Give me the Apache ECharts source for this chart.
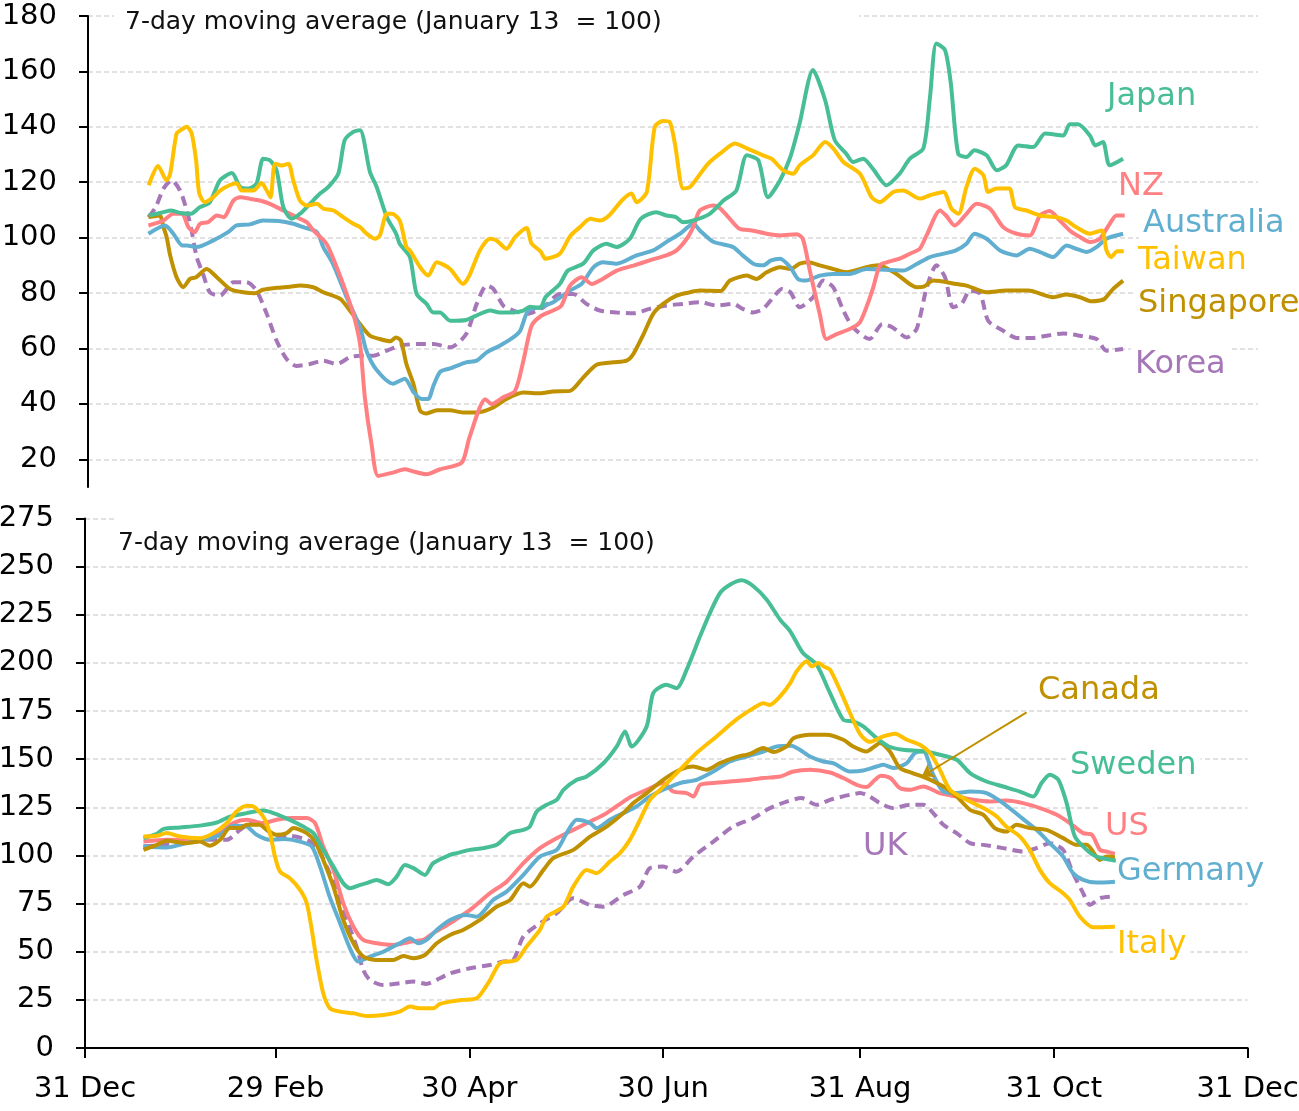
<!DOCTYPE html>
<html>
<head>
<meta charset="utf-8">
<title>7-day moving average</title>
<script src="https://cdn.jsdelivr.net/npm/echarts@6.0.0/dist/echarts.min.js"></script>
<style>
html, body { margin: 0; padding: 0; background: #fff; }
#chart-container { width: 1299px; height: 1111px; }
</style>
</head>
<body>
<div id="chart-container"></div>
<script>
// x = days since 31 Dec 2019, y = index (January 13 = 100)
var xTickDays = [0, 60, 121, 182, 244, 305, 366];
var xTickLabels = ['31 Dec', '29 Feb', '30 Apr', '30 Jun', '31 Aug', '31 Oct', '31 Dec'];

// top panel
var japan = [[19,108],[23.6,109.2],[25.9,109.8],[28.9,108.9],[32.2,108.6],[35,111],[38.1,112.8],[41.3,120.7],[45,123.3],[47.6,118.3],[50.1,117.7],[52.7,119.5],[54.8,128.5],[56.9,127.9],[59,124.3],[61.1,111],[63.7,106.8],[66.3,108.6],[69.4,112.2],[72.6,115.9],[75.2,118.3],[78.3,123.1],[80.3,135.2],[83,138.2],[85.1,138.8],[88.2,123.7],[90.3,118.3],[93.5,107.4],[96.4,101.4],[97.5,97.8],[100.7,93],[102.8,79.7],[105.9,76.1],[108,73],[110.1,73],[113.3,70],[118.3,70.3],[121.3,71.8],[125.8,73.7],[128.8,73],[133,73],[136.2,73.7],[138.2,75.1],[141.4,74.6],[143.1,78.5],[147.6,83.3],[150.1,88.1],[154.9,90.6],[158.1,95.4],[162.2,97.8],[165.3,96.6],[169.5,99.6],[172.9,106.8],[177.8,109.2],[180.9,108],[183.9,107.4],[186.2,105.6],[189.4,106.2],[194.5,108.6],[198.8,113.4],[202.8,117],[206.1,129.7],[209.7,127.9],[212.7,114.6],[216.5,120.7],[219.7,129.1],[222.6,141.2],[226.8,160.5],[230.6,149.6],[233.6,135.2],[237.2,130.3],[239.3,127.3],[242.5,128.5],[245.5,124.9],[249.8,118.9],[253.9,123.1],[257.1,128.5],[261.3,132.2],[263.4,150.8],[265.4,170.1],[268.1,167.7],[269.9,155.7],[272.2,130.3],[274.8,129.1],[277.3,131.5],[281.1,129.7],[284.3,124.3],[287.2,126.1],[291,133.3],[295.7,132.7],[299.4,137.6],[305.1,136.9],[307.1,140.9],[309.7,140.9],[313.4,136.9],[315.1,133.3],[317.5,134.5],[319.6,126.1],[323.8,128.5]];
var nz = [[18.9,104.4],[23.6,106.2],[26.7,108.6],[29.4,108.6],[31.4,103.8],[33.4,102],[35,105],[37.6,105.6],[40.3,108],[42.4,107.4],[45.5,113.4],[47.6,114.6],[50.7,114],[53.7,113.4],[56.9,112.2],[61.1,109.8],[65.2,107.4],[68.4,105.6],[70.5,102.6],[74.6,97.8],[77.8,89.3],[80.9,79.7],[83,72.5],[85.1,61.6],[86.6,42.4],[88.7,25.4],[90.8,14],[95.4,15.2],[99.1,16.4],[101.8,15.6],[105.9,14.6],[110.1,16.4],[116.9,18.8],[119.3,27.8],[124.3,41.7],[126.3,39.9],[129.9,42.4],[133.6,44.7],[136.2,55.6],[138.8,68.3],[141.9,71.9],[145.5,73.7],[148.1,75.5],[150.8,82.7],[154.4,85.7],[157.6,83.3],[161,85.1],[165.4,88.1],[170.6,89.9],[175.7,91.8],[180.9,93.6],[184.1,95.4],[187.3,99.6],[189.4,104],[191.4,109.8],[195.6,111.6],[197.8,110.5],[200.3,107.4],[203.8,103.2],[207.7,102.6],[212.3,101.4],[216.5,100.8],[221.7,101.2],[223.6,99.6],[225.8,88.1],[228.9,72.5],[231,63.4],[234.2,65.2],[238.3,67],[241.4,69.4],[243.5,74.9],[245.5,81.5],[247.7,90],[249.8,91.1],[253.9,92.4],[257.1,94.2],[260.2,96],[262.4,101],[266.5,109.8],[268.4,108],[271.1,104.4],[274.8,108.6],[278,112.2],[282.1,110.5],[286.3,103.8],[290.5,101.4],[294.6,100.8],[297.8,108],[300.8,109.6],[304,106.2],[307.1,102.6],[310.3,100.2],[313.4,98.4],[316.5,99.6],[319.6,105],[321.7,108],[324.3,108]];
var australia = [[18.9,101.4],[24.1,104.4],[26.7,101.4],[29.5,97.2],[30.9,97.2],[34,96.6],[39.2,99],[43.8,102],[46.5,104.4],[50.7,104.8],[54.7,106.2],[59.7,106],[64.2,105],[67.3,103.8],[71.6,102],[73.6,96.6],[76.6,90.6],[80.9,78.5],[85.1,67.6],[87.2,58.8],[90.3,52.2],[95.4,47.3],[99.1,49.1],[101.8,44.3],[104.4,41.8],[106.4,41.8],[108.1,46.7],[110.2,51.6],[113.3,52.8],[118.3,55],[121.6,55.6],[124.7,58.6],[128.8,61],[133,64],[135.2,66.4],[137.7,73.7],[141.4,74.9],[145.5,76.7],[150.8,80.9],[154.4,83.3],[158.1,89.3],[161,91.1],[165.4,90.6],[171.6,93.6],[176.8,95.4],[180.9,98.4],[185.2,101.4],[189.4,105],[191.4,102.6],[195.6,98.5],[201.8,96.6],[204.8,93.6],[208.1,90.6],[211.2,90],[213.7,91.8],[216.5,92.4],[219.7,89.3],[222.1,85.1],[224.6,84.5],[228.9,86.3],[233.1,86.9],[238.3,86.9],[243.5,88.7],[255,88.1],[259.4,90.6],[263.4,93],[268.4,94.4],[271.5,95.4],[274.8,97.8],[277.3,101.4],[281.1,99.6],[285.3,95.4],[290.4,93.6],[294.6,96],[297.8,94.8],[301.9,93],[306.1,97.2],[309.1,96],[312.4,94.8],[315.5,96.6],[318.6,99.6],[323.8,101.4]];
var taiwan = [[19,118.9],[21.9,125.9],[24.6,120.7],[25.7,123],[27.7,137.6],[29,138.8],[30.9,140],[32.4,137.7],[33.8,128],[34.8,116],[36.6,112.8],[39.2,114.6],[41.3,117],[44.4,119],[46.5,119.6],[48.1,117],[51.7,117],[54.3,119.7],[55.9,117],[57.1,114.6],[58.5,126.7],[60.6,126],[62.7,126.7],[64.2,120.7],[66.3,113.4],[68.4,111.6],[71.6,112.2],[73.6,110.5],[76.8,109.8],[79.8,107.4],[83,105],[85.1,103.8],[87.2,101.4],[89.8,99.6],[91.3,100.8],[93.5,108.6],[95.1,108.6],[97.5,106.2],[99.6,96.6],[100.7,95.4],[103.9,89.3],[106.4,86.3],[109.1,91.1],[113.2,88.8],[117.3,83.3],[119.3,86.3],[122.6,95.4],[125.7,99.6],[127.8,99],[130.9,96],[133.6,100.2],[137.2,103.5],[138.7,98],[141.6,95],[143.1,92.4],[147.6,94.2],[150.8,100.5],[153.9,103.8],[157.1,106.8],[160.1,106.2],[163,108],[167,113.4],[170,115.9],[171.6,112.8],[174.8,116.5],[177.3,140],[179.9,142.1],[181.9,141.8],[183.6,133.9],[186.2,117.7],[188.3,118.3],[190.8,121.9],[194,126.7],[197.7,130.3],[202.4,134],[206.1,132.2],[211.2,129.7],[213.8,128.5],[217.5,124.3],[220.7,123.1],[222.6,126.1],[226.8,129.7],[230.6,134.5],[233.1,132.2],[236.3,127.3],[241.5,123.1],[245.1,114.6],[247.7,112.8],[251.9,116.5],[255,117],[260.2,114.1],[263.4,115.3],[267.6,116.5],[270.1,110.5],[272.3,108.6],[274.8,118.3],[277.4,124.9],[280.1,122.5],[281.6,116.5],[284.3,117.7],[288.2,117.7],[290,111],[293.6,109.8],[297.8,108],[303,107.4],[306.1,106.2],[309.1,103.8],[313.4,101.4],[317.1,102.6],[318.6,95.4],[320,93],[322,95.1],[324,95.1]];
var singapore = [[18.9,107.4],[22.4,108],[23.6,103.8],[24.6,100.2],[25.7,93.6],[27.7,85.7],[29.8,82.1],[31.9,85.1],[33.8,85.7],[37.1,88.7],[40.3,85.7],[44.4,81.5],[48.5,80.3],[52.2,79.9],[54.7,81.2],[59,81.9],[63.2,82.3],[66.3,82.7],[70.5,82.1],[73.6,80.3],[78.9,77.9],[81.9,73.7],[85.1,68.8],[88.2,64.6],[91.3,63.4],[94.5,62.6],[96.4,64],[97.9,62.8],[99.6,54.4],[101.8,47.2],[103.9,37.5],[105.9,36.5],[109.1,37.7],[113.2,37.7],[117.3,36.9],[121.6,36.9],[126.8,38.7],[130.9,41.8],[136.2,44.1],[141.4,43.8],[145.5,44.5],[150.8,44.7],[154.9,49.5],[159.1,54.1],[164.3,55],[168.5,55.6],[170.6,58],[173.8,65.2],[176.8,72.5],[179.9,76.1],[184.1,79.1],[188.3,80.3],[191.4,80.9],[197.8,80.7],[200.8,84.5],[206.1,86.3],[209.1,85.1],[212.3,87.5],[216.5,89.3],[219.7,88.7],[222.6,90.6],[225.3,91.1],[228.9,90],[233.1,88.7],[237.2,87.5],[243.5,89.3],[247.2,90],[252.9,86.9],[259.2,82.1],[261.4,82.3],[264.4,84.5],[271.7,83.3],[274.8,82.7],[281.1,80.3],[287.2,80.9],[294.1,80.9],[301.9,78.5],[306.1,79.5],[310.3,78.5],[313.9,77],[316.5,77.3],[318,77.9],[320.7,81.5],[323.8,84.5]];
var korea = [[18.9,107.4],[21.2,111],[23.6,117.7],[26.2,120.7],[28.8,117],[30.9,109.8],[32.4,102.6],[34,93],[36,86.9],[38.1,80.3],[41.3,79.1],[45.5,83.9],[49.6,83.9],[52.7,80.9],[55.9,72.5],[59,62.8],[62.2,56.1],[65.2,53.7],[69.4,54.4],[73.6,55.6],[77.8,54.4],[81.9,56.8],[85.1,57.4],[89.2,57.4],[93.5,59.2],[97.5,61],[102.8,61.6],[108.1,61.6],[113.3,60.4],[118.3,65.2],[121.6,76.1],[124.7,82.7],[126.8,81.5],[129.9,75.5],[133,73.7],[137.2,72.5],[142.5,74.9],[147.6,79.7],[151.8,79.7],[155.9,76.1],[160.1,73.7],[165.4,73],[170.6,72.7],[175.7,74.3],[180.9,75.5],[186.2,76.1],[191.4,76.7],[196.6,75.5],[201.8,76.1],[204.8,74.3],[208.1,73],[211.2,74.3],[214.4,78.5],[217,81.5],[219.7,80.3],[222.6,74.9],[226.8,78.5],[230,84.5],[233.1,82.1],[236.3,73.7],[239.3,67.6],[244.5,63.4],[248.5,68.8],[251.7,67.6],[256.1,64],[259.2,67],[262.4,82.1],[265.4,90],[268.1,85.7],[270.6,74.9],[273.3,76.1],[275.9,80.9],[279.1,79.7],[281.6,70],[286.3,66.4],[290.5,63.8],[295.7,63.8],[299.9,64.6],[305.1,65.4],[310.3,64.6],[315.5,63.4],[318.6,59.2],[323.8,59.8]];

// bottom panel
var sweden = [[18.4,109],[22.6,111.2],[24.6,113.7],[29.9,114.5],[36.2,115.5],[41.5,117.1],[45.6,120.2],[50.9,122],[56.1,123.3],[59.3,122],[64.5,118.5],[68.7,115],[71.9,111.6],[75,102.9],[78.2,94.2],[81.3,85.6],[83.4,83],[86.6,84.7],[88.7,85.6],[91.8,87.3],[95.5,85.1],[98.1,89],[100.7,95.1],[103.4,93.4],[107,89.9],[109.6,96],[114.9,100.3],[117,101.2],[121.2,102.9],[125.4,103.8],[129.6,105.5],[133.8,111.6],[138,113.3],[140,115],[142.2,122.8],[145.3,126.3],[148.5,128.9],[150.6,134.1],[154.8,139.3],[157.9,141],[163.2,147.9],[167.4,156.6],[170,164.4],[172.1,156.6],[176.8,167],[178.9,184.4],[183,188.7],[186.2,186.9],[189.4,196.5],[193.6,213.8],[196.7,225.9],[199.9,236.3],[203,240.6],[206.7,242.9],[210.4,239.8],[214.6,232.8],[218.8,222.5],[222,216.4],[226,205.1],[230.3,199.1],[234.5,184.4],[238.7,170.5],[241.8,169.6],[245,167],[249.2,160.9],[253,156.6],[257.5,154.9],[263.9,154.1],[269.1,152.3],[274.4,149.7],[278.6,142.8],[283.8,138.4],[289,135.8],[294.3,133.2],[298.5,130.6],[301.1,137.6],[303.7,141.9],[306.4,139.3],[309,127.2],[311.6,109.8],[315.3,102.9],[318.4,99.4],[324.5,97.3]];
var us = [[18.4,107.2],[25.7,108.1],[36.2,107.6],[42.5,111.6],[46.7,116.8],[50.9,118.5],[56,116.8],[60.3,118.5],[64.5,119.4],[69.8,119.4],[72.4,116.8],[75,104.6],[78.2,92.5],[81.3,75.2],[84.5,63],[87.6,56.1],[91.8,54.4],[97,53.5],[102.3,55.2],[106.5,56.1],[109.6,59.6],[114.9,64.8],[121.2,71.7],[127.5,80.4],[132.7,86.4],[138,96],[143.2,103.8],[148.5,109],[153.7,113.3],[159,117.6],[164.2,122],[169.5,128],[172,130.6],[176.8,134.1],[182,137.6],[185.2,133.2],[189.4,132.4],[191.5,130.6],[193.6,136.7],[197.8,137.6],[203,138.4],[209.3,139.3],[213.5,140.2],[218.8,141],[223,143.6],[228.2,144.5],[234.5,143.1],[238.7,140.2],[242.9,136.7],[246,135.5],[248.7,139.3],[250.5,141.4],[253.5,140.2],[256.5,135],[259.7,134.1],[263.9,135.8],[269,132.4],[274.4,130.6],[279.6,128.9],[284.9,128],[290,128.5],[295.3,127.2],[300.6,124.6],[305.9,121.1],[310,116.8],[314.2,111.6],[317,110.7],[319.5,102.9],[321.6,102],[324.2,100.8]];
var germany = [[18.4,104.6],[25.7,104.1],[32,106.4],[38.3,108.5],[42.5,110.7],[46.7,115.4],[50.9,115],[54,110.7],[58.2,108.1],[62.4,108.5],[67.7,107.2],[71.4,104.6],[74,94.2],[77,78.6],[80.3,64.8],[83.4,51.8],[86,44.9],[89.7,47.5],[93.9,50],[99.1,54.4],[102.3,57],[104.9,54.4],[107.5,56.1],[110.7,61.3],[114.9,66.5],[120,69.1],[123.3,68.2],[128.5,76.9],[132.7,81.2],[138,89.9],[143.2,99.4],[148.5,102.9],[151.6,111.6],[154.8,118.5],[159,116.8],[161,114.2],[165.2,118.5],[169.5,122],[173.6,125.4],[177.8,130.6],[182,134.1],[187.3,137.6],[192.5,139.3],[197.8,143.6],[203,148.8],[208.3,151.4],[213.5,154],[217.7,156.6],[222.4,157],[225,154.9],[228.2,151.4],[232.4,148.8],[235.5,148],[240.8,143.6],[245,144.1],[249.2,146.2],[251.3,147.1],[254.4,145.4],[258.7,148],[261.2,153.2],[263.9,154],[267,142],[270.2,133.2],[274.4,132.4],[278.6,133.2],[283.8,132.4],[289,127.2],[294.3,120.2],[299.5,113.3],[303.7,106.4],[307.9,99.4],[311,90.8],[314.2,87.3],[318.4,85.9],[324.2,86.4]];
var italy = [[18.4,109.8],[22.6,110.2],[25.7,111.6],[29.9,109.8],[36.2,109],[40.4,111.6],[44.6,116.8],[47.7,122.8],[50.9,125.8],[53,125.4],[56.1,120.2],[58.2,111.6],[59.8,99.4],[61.4,91.6],[64.5,88.2],[67.7,82.1],[69.8,75.2],[71.4,61.3],[72.9,45.7],[75,28.4],[77.1,20.6],[80.3,18.9],[84.5,18],[88.7,16.6],[93.9,17.1],[99.1,18.9],[102.3,21.5],[105.4,20.6],[109.6,20.6],[111.7,22.9],[114.9,24.1],[119,25],[123.3,25.8],[127.5,35.3],[130.6,44],[135.9,45.7],[139,52.7],[143.2,61.3],[145.3,68.2],[150.6,73.4],[153.7,83.8],[157.9,92.5],[161,90.8],[165.2,96.8],[168.4,101.2],[171.5,108.1],[174.7,118.5],[177.8,128.9],[181,134.1],[187.3,144.5],[192.5,153.2],[198.8,161.8],[205,170.5],[210.4,176.5],[213.5,179.1],[215.6,178.2],[218.8,182.6],[222,189.5],[224,195.6],[227.2,200.8],[228.8,198.2],[230.8,199.9],[232.5,198.2],[234.5,196.5],[237.6,186.1],[240.8,174],[244,163],[247,159],[251.3,161.8],[255,163.2],[258.7,160.1],[262.8,157.5],[266,153.2],[269.1,144.5],[272.3,134.1],[277.5,128.9],[282.8,124.6],[287,120.2],[290,115],[294.3,109.8],[297.4,102.9],[300.6,92.5],[303.7,85.6],[307.9,80.4],[310,76.9],[313.2,68.2],[317.4,62.7],[324.2,63]];
var canada = [[18.4,102.9],[22.6,105.5],[25.7,107.6],[32,106.4],[36.2,107.2],[39.3,105],[42.5,108.1],[45.6,114.2],[48.8,114.2],[50.9,115.9],[55,115.9],[57.2,113.3],[60.3,110.7],[63.5,111.6],[65.6,114.2],[69.8,111.6],[72.4,107.2],[75,97.7],[78.2,83.8],[81.3,66.5],[84.5,54.4],[87.6,47.5],[91.8,45.7],[97,45.7],[100.2,47.8],[103.4,46.6],[107,48.3],[110.7,54.4],[114.9,58.7],[119,61.3],[124.3,66.5],[129.6,73.4],[133.8,76.9],[138,85.6],[140,83.8],[144.3,92.5],[147.4,98.6],[153.7,102.9],[159,109.8],[164.2,115],[169.5,122],[172.6,127.2],[176.8,132.4],[182,139.3],[187.3,144.5],[191.5,146.2],[195.7,144.5],[199.9,148],[205,151.1],[209.3,152.8],[213.5,155.8],[216.7,153.7],[220.9,156.6],[223,160.9],[228.2,162.7],[233.4,162.7],[238.7,160.1],[241.8,156.6],[246,154],[248.5,156.6],[250.2,158.4],[253.3,154.1],[256.5,145.4],[260.5,142.8],[264.9,140.2],[270.2,135.8],[274.4,130.6],[278.6,123.7],[282.8,121.1],[286.4,114.2],[290,112.4],[293.2,115.9],[297.4,114.2],[302.7,113.3],[307.9,109],[312.1,105.5],[315.3,105.5],[319.5,97.7],[321.6,99.4],[324.2,99.1]];
var uk = [[18.4,104.6],[23.6,105.5],[30.9,106.4],[38.3,108.1],[44.6,108.1],[48.8,113.3],[53,117.6],[56.1,115],[60.3,109.8],[64.5,110.2],[69.8,108.1],[72.9,104.6],[76.1,94.2],[79.2,82.1],[82.4,66.5],[85.5,52.6],[87.6,40.5],[89.7,35.3],[93.9,32.7],[99.1,33.6],[103.4,34.5],[107.5,33.3],[111.7,36.2],[114.9,38.8],[121.2,41.4],[127.5,43.1],[131.7,44.9],[134.8,45.7],[138,57.9],[143.2,64.8],[148.5,70],[153.7,77.8],[159,74.3],[163.2,73.4],[169.5,79.5],[174.7,83.8],[177.8,93.4],[182,94.2],[186.2,91.6],[191.5,99.4],[197.8,107.2],[204,115],[210.4,119.4],[215.6,124.6],[220.9,128],[225.5,129.8],[230.3,126.3],[234.5,128.9],[240.8,131.5],[244,132.4],[247,130.6],[250.2,127.2],[254.4,124.6],[259.7,126.3],[263.9,126.3],[267,122],[270.2,115.9],[274.4,111.6],[278.6,106.4],[282.8,105.5],[289,103.8],[295.3,102],[299.5,103.8],[303.7,106.4],[307.9,102.9],[311,90.8],[314.2,80.4],[316.3,74.3],[319.5,77.8],[322.6,78.6]];

var GREEN = '#48BE97', PINK = '#FF7F82', BLUE = '#61AFD0', YELLOW = '#FFC000', GOLD = '#BF9000', PURPLE = '#A677B8';
var FONT = '"DejaVu Sans", sans-serif';
var GRID_LINE = { show: true, lineStyle: { color: '#D9D9D9', width: 1.5, type: [5, 3] } };

function lineSeries(name, data, color, axisIdx, dashed) {
	return {
		name: name,
		type: 'line',
		xAxisIndex: axisIdx,
		yAxisIndex: axisIdx,
		data: data,
		showSymbol: false,
		smooth: 0.25,
		lineStyle: { color: color, width: 4, type: dashed ? [10, 6] : 'solid' },
		itemStyle: { color: color },
		z: 3
	};
}

function label(text, x, y, color, pad, noBg) {
	return {
		type: 'text',
		z: 1,
		style: {
			text: text, x: x, y: y, fill: color,
			font: '32px ' + FONT,
			verticalAlign: 'middle',
			backgroundColor: noBg ? null : '#fff',
			padding: pad || [6, 4]
		}
	};
}

var chartDom = document.getElementById('chart-container');
var myChart = echarts.init(chartDom);

var canadaSeries = lineSeries('Canada', canada, GOLD, 2);
canadaSeries.markLine = {
	silent: true,
	symbol: ['none', 'arrow'],
	symbolSize: 12,
	label: { show: false },
	lineStyle: { color: GOLD, width: 2, type: 'solid' },
	data: [[{ coord: [296.4, 174.3] }, { coord: [263.4, 141] }]]
};

var option = {
	animation: false,
	backgroundColor: '#fff',
	grid: [
		{ left: 88, right: 41, top: 16, height: 471, containLabel: false, outerBoundsMode: 'none' },
		{ left: 88, right: 41, top: 16, height: 443.3, containLabel: false, outerBoundsMode: 'none' },
		{ left: 85, right: 51.3, top: 518.5, height: 529.5, containLabel: false, outerBoundsMode: 'none' }
	],
	xAxis: [
		{ gridIndex: 0, type: 'value', min: 0, max: 366, show: false },
		{ gridIndex: 1, type: 'value', min: 0, max: 366, show: false },
		{
			gridIndex: 2, type: 'value', min: 0, max: 366,
			axisLine: { show: true, onZero: false, lineStyle: { color: '#000', width: 2 } },
			axisTick: { show: true, customValues: xTickDays, length: 10, lineStyle: { color: '#000', width: 2 } },
			axisLabel: {
				customValues: xTickDays,
				margin: 27,
				color: '#000',
				fontFamily: FONT,
				fontSize: 29,
				formatter: function (v) {
					var i = xTickDays.indexOf(v);
					return i >= 0 ? xTickLabels[i] : '';
				}
			},
			splitLine: { show: false }
		}
	],
	yAxis: [
		{
			gridIndex: 0, type: 'value', min: 10, max: 180,
			axisLine: { show: true, lineStyle: { color: '#000', width: 2 } },
			axisTick: { show: false }, axisLabel: { show: false }, splitLine: { show: false }
		},
		{
			gridIndex: 1, type: 'value', min: 20, max: 180, interval: 20,
			axisLine: { show: false },
			axisTick: { show: true, length: 9, lineStyle: { color: '#000', width: 2 } },
			axisLabel: { margin: 31, color: '#000', fontFamily: FONT, fontSize: 29 },
			splitLine: GRID_LINE
		},
		{
			gridIndex: 2, type: 'value', min: 0, max: 275, interval: 25,
			axisLine: { show: true, lineStyle: { color: '#000', width: 2 } },
			axisTick: { show: true, length: 9, lineStyle: { color: '#000', width: 2 } },
			axisLabel: { margin: 31, color: '#000', fontFamily: FONT, fontSize: 29 },
			splitLine: GRID_LINE
		}
	],
	series: [
		lineSeries('Korea', korea, PURPLE, 0, true),
		lineSeries('Singapore', singapore, GOLD, 0),
		lineSeries('Australia', australia, BLUE, 0),
		lineSeries('NZ', nz, PINK, 0),
		lineSeries('Japan', japan, GREEN, 0),
		lineSeries('Taiwan', taiwan, YELLOW, 0),
		lineSeries('UK', uk, PURPLE, 2, true),
		lineSeries('US', us, PINK, 2),
		lineSeries('Germany', germany, BLUE, 2),
		canadaSeries,
		lineSeries('Sweden', sweden, GREEN, 2),
		lineSeries('Italy', italy, YELLOW, 2)
	],
	graphic: [
		{ type: 'rect', z: 1, shape: { x: 114, y: 4, width: 745, height: 30 }, style: { fill: '#fff' } },
		{ type: 'text', z: 1, style: { text: '7-day moving average (January 13  = 100)', x: 125, y: 22, fill: '#111', font: '25px ' + FONT, verticalAlign: 'middle' } },
		{ type: 'rect', z: 1, shape: { x: 114, y: 510, width: 1140, height: 46 }, style: { fill: '#fff' } },
		{ type: 'text', z: 1, style: { text: '7-day moving average (January 13  = 100)', x: 118, y: 543, fill: '#111', font: '25px ' + FONT, verticalAlign: 'middle' } },
		label('Japan', 1103, 97, GREEN),
		label('NZ', 1114, 187, PINK, [2, 4], true),
		label('Australia', 1139, 224, BLUE),
		label('Taiwan', 1134, 261, YELLOW),
		label('Singapore', 1134, 304, GOLD),
		label('Korea', 1131, 365, PURPLE),
		label('Canada', 1034, 691, GOLD, [2, 4]),
		label('Sweden', 1066, 766, GREEN),
		label('US', 1101, 827, PINK),
		label('UK', 859, 847, PURPLE),
		label('Germany', 1113, 872, BLUE),
		label('Italy', 1113, 945, YELLOW)
	]
};

myChart.setOption(option);

window.addEventListener('resize', function () {
	myChart.resize();
});
</script>
</body>
</html>
